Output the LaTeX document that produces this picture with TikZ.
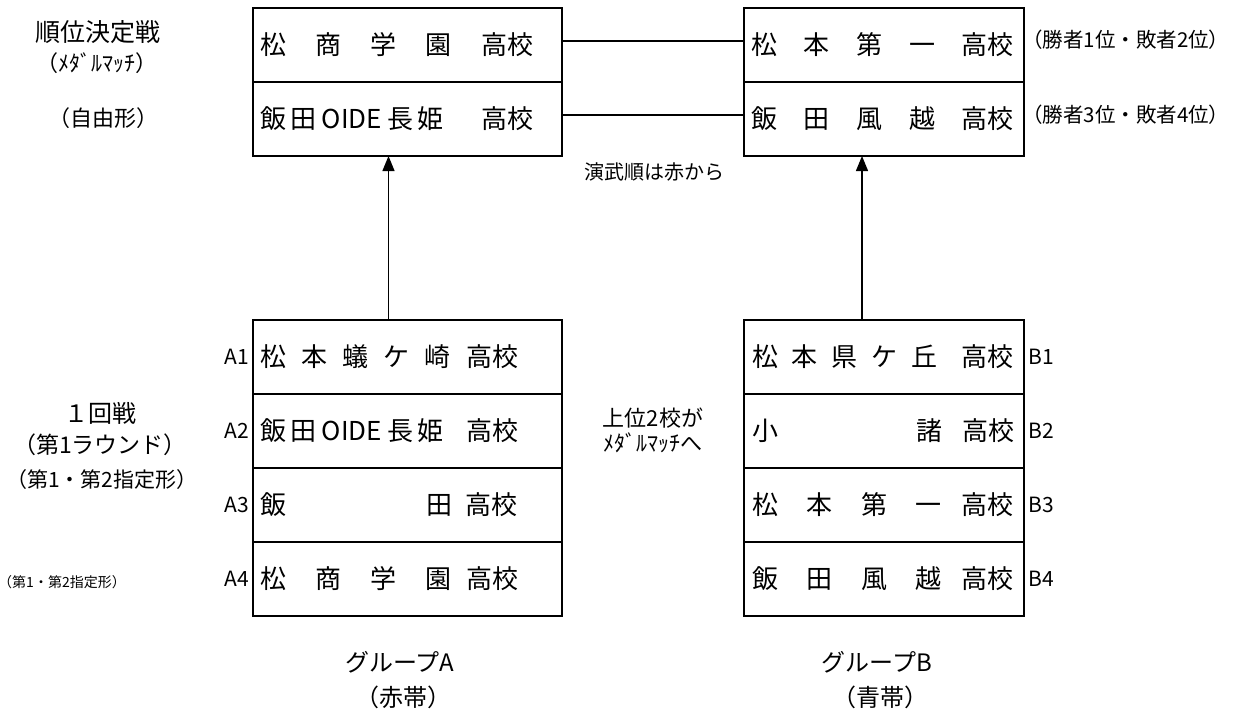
\documentclass[tikz,border=0pt]{standalone}
\usepackage{fontspec}
\setmainfont{Noto Sans CJK JP}
\usetikzlibrary{positioning,arrows.meta}

% row text: outer box, inner spread box
\newcommand{\rowtext}[3]{\makebox[#1][l]{\makebox[#2]{#3}}}

\begin{document}
\begin{tikzpicture}[x=1pt,y=-1pt,
	cellA/.style={draw,line width=2.6pt,outer sep=0pt,inner xsep=7pt,inner ysep=0pt,
		minimum width=309pt,minimum height=74pt,font=\fontsize{26}{26}\selectfont},
	cellB/.style={cellA,minimum width=280pt},
	tag/.style={inner sep=0pt,font=\fontsize{21}{21}\selectfont},
	note/.style={inner sep=0pt,font=\fontsize{#1}{#1}\selectfont},
	link/.style={line width=1.3pt},
	uparrow/.style={line width=1.3pt,-{Triangle[length=15pt,width=12pt]}}]
	\useasboundingbox (0,0) rectangle (1253,713);

	% final round
	\node[cellA,anchor=north west] (upA1) at (253,8) {\rowtext{295pt}{273pt}{松\hfill 商\hfill 学\hfill 園\hfill 高校}};
	\node[cellA,below=0pt of upA1] (upA2) {\rowtext{295pt}{273pt}{飯\hspace{5pt}田\hspace{5pt}OIDE\hspace{5pt}長\hspace{4pt}姫\hfill 高校}};
	\node[cellB,anchor=north west] (upB1) at (744,8) {\rowtext{266pt}{263pt}{松\hfill 本\hfill 第\hfill 一\hfill 高校}};
	\node[cellB,below=0pt of upB1] (upB2) {\rowtext{266pt}{263pt}{飯\hfill 田\hfill 風\hfill 越\hfill 高校}};

	\draw[link] ([yshift=4pt]upA1.east) -- ([yshift=4pt]upB1.west);
	\draw[link] ([yshift=4pt]upA2.east) -- ([yshift=4pt]upB2.west);

	% first round, group A
	\node[cellA,anchor=north west] (lowA1) at (253,320) {\rowtext{295pt}{258pt}{松\hfill 本\hfill 蟻\hfill ケ\hfill 崎\hfill 高校}};
	\node[cellA,below=0pt of lowA1] (lowA2) {\rowtext{295pt}{258pt}{飯\hspace{5pt}田\hspace{5pt}OIDE\hspace{5pt}長\hspace{4pt}姫\hfill 高校}};
	\node[cellA,below=0pt of lowA2] (lowA3) {\rowtext{295pt}{258pt}{飯\hfill 田\hspace{14pt}高校}};
	\node[cellA,below=0pt of lowA3] (lowA4) {\rowtext{295pt}{258pt}{松\hfill 商\hfill 学\hfill 園\hspace{14pt}高校}};

	% first round, group B
	\node[cellB,anchor=north west] (lowB1) at (744,320) {\rowtext{266pt}{263pt}{\hspace{1pt}松\hfill 本\hfill 県\hfill ケ\hfill 丘\hspace{24pt}高校}};
	\node[cellB,below=0pt of lowB1] (lowB2) {\rowtext{266pt}{263pt}{\hspace{1pt}小\hfill 諸\hspace{20pt}高校}};
	\node[cellB,below=0pt of lowB2] (lowB3) {\rowtext{266pt}{263pt}{\hspace{1pt}松\hfill 本\hfill 第\hfill 一\hspace{20pt}高校}};
	\node[cellB,below=0pt of lowB3] (lowB4) {\rowtext{266pt}{263pt}{\hspace{1pt}飯\hfill 田\hfill 風\hfill 越\hspace{20pt}高校}};

	\draw[uparrow] ([xshift=-19pt]lowA1.north) -- ([xshift=-19pt]upA2.south);
	\draw[uparrow] ([xshift=-22pt]lowB1.north) -- ([xshift=-22pt]upB2.south);

	% seeds
	\foreach \i in {1,...,4}{
		\node[tag,anchor=east] (labA\i) at ([xshift=-4pt]lowA\i.west) {A\i};
		\node[tag,anchor=west] (labB\i) at ([xshift=4pt]lowB\i.east) {B\i};
	}

	% side notes
	\node[note=25] (final) at (98,32) {順位決定戦};
	\node[note=22] (medal) at (97,63) {（ﾒﾀﾞﾙﾏｯﾁ）};
	\node[note=22] (free) at (103,118) {（自由形）};
	\node[note=20.5,anchor=west] (rank1) at (1022,40) {（勝者1位・敗者2位）};
	\node[note=20.5,anchor=west] (rank2) at (1022,115) {（勝者3位・敗者4位）};
	\node[note=20] (order) at (654,172) {演武順は赤から};

	\node[note=24] (round1) at (100,413) {１回戦};
	\node[note=23] (round1b) at (100,445) {（第1ラウンド）};
	\node[note=21] (setA3) at (102,480) {（第1・第2指定形）};
	\node[note=14] (setA4) at (62,582) {（第1・第2指定形）};

	\node[note=22] (top2) at (653,418) {上位2校が};
	\node[note=22] (tomedal) at (653,443) {ﾒﾀﾞﾙﾏｯﾁへ};

	\node[note=24] (grpA) at (400,662) {グループA};
	\node[note=24] (beltA) at (403,697) {（赤帯）};
	\node[note=24] (grpB) at (877,662) {グループB};
	\node[note=24] (beltB) at (880,697) {（青帯）};
\end{tikzpicture}
\end{document}
